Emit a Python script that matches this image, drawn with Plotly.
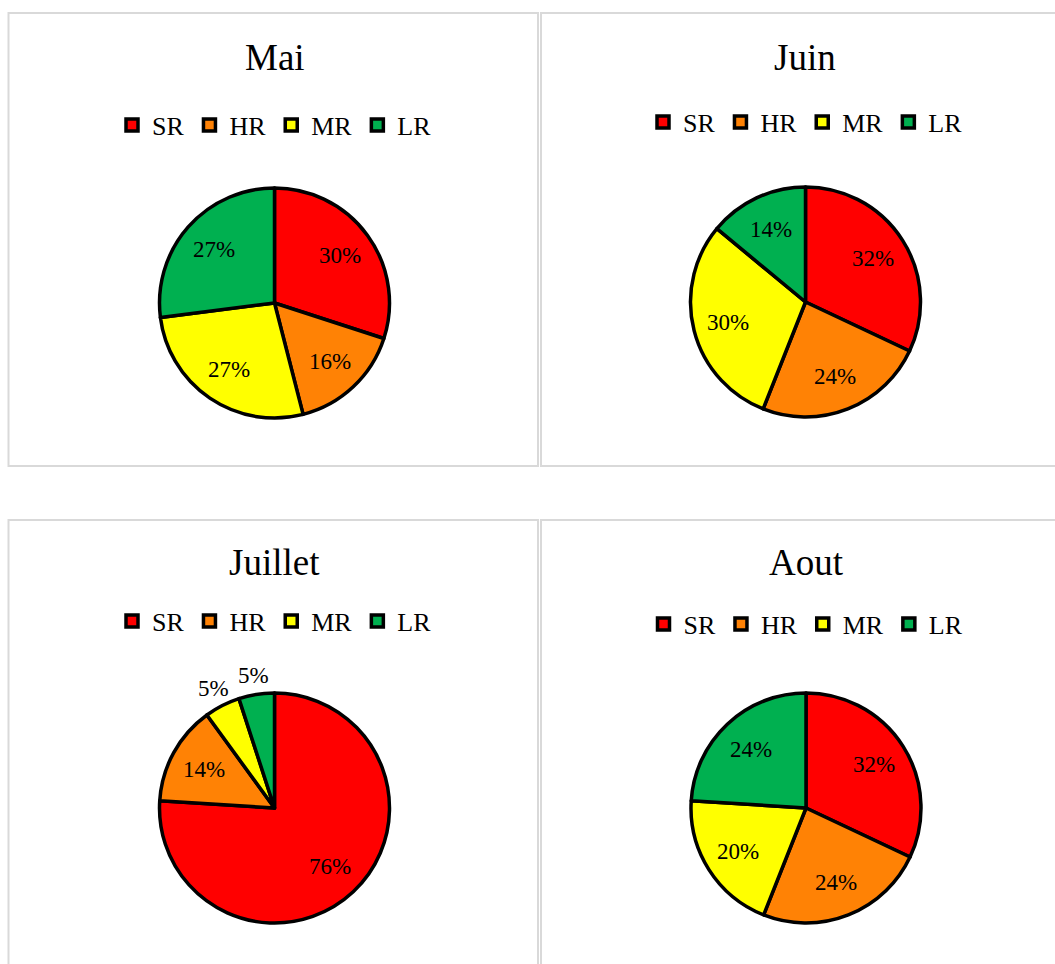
import math
import plotly.graph_objects as go

# Résistance par mois (pourcentage d'isolats)
categories = ["SR", "HR", "MR", "LR"]
months = ["Mai", "Juin", "Juillet", "Aout"]
mai = [30, 16, 27, 27]
juin = [32, 24, 30, 14]
juillet = [76, 14, 5, 5]
aout = [32, 24, 20, 24]
series = [mai, juin, juillet, aout]

colors = ["#ff0000", "#ff8205", "#ffff00", "#00b050"]
FONT = "Liberation Serif"
W, H = 1055, 964
SMALL = 10  # slices below this share get their label outside the pie


def px_x(x):
    return x / W


def px_y(y):
    return 1 - y / H


# panel layout (pixels): pie centre, title y, legend y
panels = [
    dict(cx=274.5, cy=303, ty=57, ly=125),
    dict(cx=805.5, cy=302, ty=57, ly=122),
    dict(cx=274.5, cy=808, ty=562, ly=621),
    dict(cx=806, cy=808, ty=562, ly=624),
]
R = 115

fig = go.Figure()
layout_extra = {}
annotations = []

for i, (name, vals, p) in enumerate(zip(months, series, panels)):
    lid = "legend" if i == 0 else f"legend{i + 1}"
    fig.add_trace(go.Pie(
        labels=categories,
        values=vals,
        sort=False,
        direction="clockwise",
        rotation=0,
        marker=dict(colors=colors, line=dict(color="black", width=3.5)),
        textinfo="none",
        domain=dict(x=[px_x(p["cx"] - R), px_x(p["cx"] + R)],
                    y=[px_y(p["cy"] + R), px_y(p["cy"] - R)]),
        legend=lid,
        legendgroup=name,
        hoverinfo="label+value",
        name=name,
    ))
    layout_extra[lid] = dict(
        orientation="h",
        traceorder="normal",
        x=px_x(p["cx"]), xanchor="center",
        y=px_y(p["ly"]), yanchor="middle",
        font=dict(family=FONT, size=26, color="black"),
        bgcolor="rgba(0,0,0,0)",
    )
    annotations.append(dict(
        text=name, x=px_x(p["cx"]), y=px_y(p["ty"]),
        xref="paper", yref="paper", xanchor="center", yanchor="middle",
        showarrow=False, font=dict(family=FONT, size=37, color="black"),
    ))

    # percentage labels along each slice's mid-angle
    total = sum(vals)
    cum = 0
    for v in vals:
        theta = math.radians(360 * (cum + v / 2) / total)
        d = R + 19 if v < SMALL else 0.7 * R
        annotations.append(dict(
            text=f"{v}%",
            x=px_x(p["cx"] + d * math.sin(theta)),
            y=px_y(p["cy"] - d * math.cos(theta)),
            xref="paper", yref="paper", xanchor="center", yanchor="middle",
            showarrow=False, font=dict(family=FONT, size=23, color="black"),
        ))
        cum += v

# chart frames
frames = [
    (8.5, 13, 538, 466),
    (541, 13, 1080, 466),
    (8.5, 520, 538, 990),
    (541, 520, 1080, 990),
]
shapes = [
    dict(type="rect", xref="paper", yref="paper",
         x0=px_x(x0), x1=px_x(x1), y0=px_y(y1), y1=px_y(y0),
         line=dict(color="#d9d9d9", width=2), fillcolor="rgba(0,0,0,0)",
         layer="below")
    for x0, y0, x1, y1 in frames
]

fig.update_layout(
    width=W, height=H,
    margin=dict(l=0, r=0, t=0, b=0),
    paper_bgcolor="white",
    plot_bgcolor="white",
    annotations=annotations,
    shapes=shapes,
    **layout_extra,
)

fig.write_html("out.html")
